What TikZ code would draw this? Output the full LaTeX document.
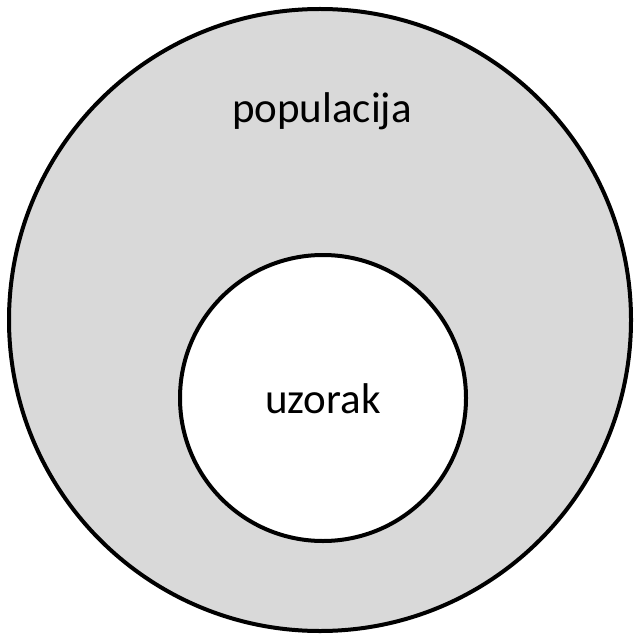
\documentclass[tikz,border=0pt]{standalone}
\usepackage{fontspec}
\setmainfont{Carlito}
\usetikzlibrary{positioning}
\definecolor{popgray}{RGB}{217,217,217}

\begin{document}
\begin{tikzpicture}[
    x=1pt, y=1pt,
    font=\fontsize{43}{50}\selectfont,
    set/.style={circle, draw=black, line width=4pt, inner sep=0pt},
    setlabel/.style={anchor=base, inner sep=0pt}
]
\useasboundingbox (0,0) rectangle (633,-636);

% Sets
\node[set, fill=popgray, minimum size=622pt] (population) at (320,-320) {};
\node[set, fill=white, minimum size=286pt] (sample) at (323,-398) {};

% Labels
\node[setlabel] (poplabel) at (322,-123) {populacija};
\node[setlabel] (samplelabel) at (323,-413) {uzorak};

\end{tikzpicture}
\end{document}
